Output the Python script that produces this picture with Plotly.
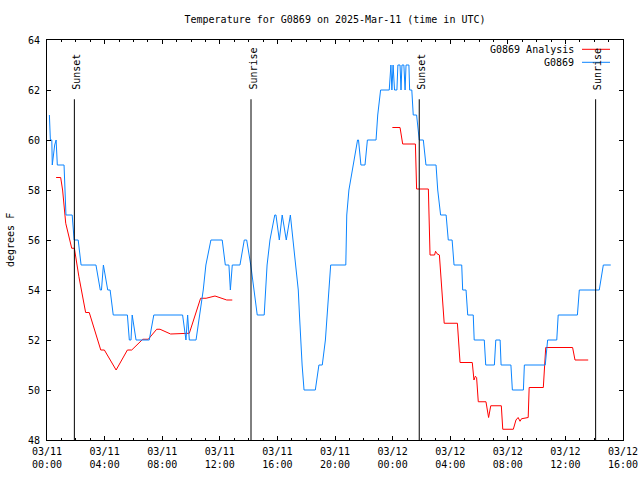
import plotly.graph_objects as go

D1 = "2025-03-11 "
D2 = "2025-03-12 "

obs_times = [
    D1+"00:10", D1+"00:14", D1+"00:20", D1+"00:22", D1+"00:27", D1+"00:32", D1+"00:38", D1+"00:43",
    D1+"01:11", D1+"01:16", D1+"01:19", D1+"01:45", D1+"01:53", D1+"02:10", D1+"02:22", D1+"03:24",
    D1+"03:42", D1+"03:47", D1+"03:55", D1+"04:13", D1+"04:23", D1+"04:36", D1+"05:35", D1+"05:43",
    D1+"05:50", D1+"05:55", D1+"06:11", D1+"07:06", D1+"07:25", D1+"09:25", D1+"09:39", D1+"09:46",
    D1+"09:53", D1+"10:21", D1+"10:51", D1+"11:02", D1+"11:23", D1+"12:10", D1+"12:23", D1+"12:38",
    D1+"12:44", D1+"12:52", D1+"13:24", D1+"13:42", D1+"13:52", D1+"14:09", D1+"14:24", D1+"14:36",
    D1+"15:05", D1+"15:17", D1+"15:29", D1+"15:49", D1+"15:54", D1+"16:08", D1+"16:20", D1+"16:37",
    D1+"16:54", D1+"17:06", D1+"17:18", D1+"17:27", D1+"17:32", D1+"17:37", D1+"17:43", D1+"17:51",
    D1+"18:38", D1+"18:53", D1+"19:07", D1+"19:20", D1+"19:28", D1+"19:34", D1+"19:42", D1+"20:45",
    D1+"20:49", D1+"20:58", D1+"21:15", D1+"21:34", D1+"21:38", D1+"21:48", D1+"22:05", D1+"22:15",
    D1+"22:51", D1+"22:58", D1+"23:10", D1+"23:46", D1+"23:53", D1+"23:57", D2+"00:02", D2+"00:08",
    D2+"00:18", D2+"00:22", D2+"00:31", D2+"00:35", D2+"00:39", D2+"00:47", D2+"00:52", D2+"00:56",
    D2+"01:08", D2+"01:11", D2+"01:20", D2+"01:26", D2+"01:40", D2+"01:51", D2+"02:08", D2+"02:19",
    D2+"03:01", D2+"03:08", D2+"03:20", D2+"03:43", D2+"03:52", D2+"04:08", D2+"04:16", D2+"04:48",
    D2+"04:52", D2+"05:06", D2+"05:13", D2+"05:36", D2+"05:40", D2+"06:22", D2+"06:28", D2+"07:04",
    D2+"07:10", D2+"07:28", D2+"07:32", D2+"08:13", D2+"08:19", D2+"09:05", D2+"09:09", D2+"10:36",
    D2+"10:46", D2+"11:24", D2+"11:30", D2+"12:50", D2+"12:58", D2+"14:21", D2+"14:38", D2+"15:09",
]
obs_temps = [
    61, 60, 60, 59, 59.4, 59.8, 60, 59,
    59, 58, 57, 57, 56, 56, 55, 55,
    54, 54, 55, 54, 54, 53, 53, 52,
    52, 53, 52, 52, 53, 53, 52, 53,
    52, 52, 54, 55, 56, 56, 55, 55,
    54, 55, 55, 56, 56, 55, 54, 53,
    53, 55, 56, 57, 57, 56, 57, 56,
    57, 56, 55, 54, 53, 52, 51, 50,
    50, 51, 51, 52, 53, 54, 55, 55,
    57, 58, 59, 60, 60, 59, 59, 60,
    60, 61, 62, 62, 63, 62, 63, 62,
    62, 63, 63, 62, 63, 63, 62, 63,
    63, 62, 62, 61, 61, 60, 60, 59,
    59, 58, 57, 57, 56, 56, 55, 55,
    54, 54, 53, 53, 52, 52, 51, 51,
    52, 52, 51, 51, 50, 50, 51, 51,
    52, 52, 53, 53, 54, 54, 55, 55,
]

ana_times = [
    D1+"00:38", D1+"00:57", D1+"01:05", D1+"01:18", D1+"01:43", D1+"01:54", D1+"02:13", D1+"02:27",
    D1+"02:41", D1+"02:56", D1+"03:23", D1+"03:44", D1+"03:59", D1+"04:48", D1+"05:35", D1+"05:53",
    D1+"06:39", D1+"07:02", D1+"07:37", D1+"07:51", D1+"08:35", D1+"09:53", D1+"10:40", D1+"11:03",
    D1+"11:40", D1+"12:29", D1+"12:52",
    D1+"18:00",
    D1+"23:59", D2+"00:31", D2+"00:42", D2+"01:35", D2+"01:40", D2+"02:29", D2+"02:36", D2+"02:55",
    D2+"02:59", D2+"03:05", D2+"03:15", D2+"03:35", D2+"04:30", D2+"04:41", D2+"05:32", D2+"05:39",
    D2+"05:45", D2+"05:50", D2+"05:57", D2+"06:29", D2+"06:40", D2+"06:49", D2+"07:33", D2+"07:39",
    D2+"08:23", D2+"08:34", D2+"08:43", D2+"08:51", D2+"08:57", D2+"09:25", D2+"09:29", D2+"10:28",
    D2+"10:38", D2+"12:30", D2+"12:40", D2+"13:35",
]
ana_temps = [
    58.5, 58.5, 58.0, 56.67, 55.67, 55.67, 54.53, 53.73,
    53.1, 53.1, 52.27, 51.6, 51.6, 50.8, 51.6, 51.6,
    52.03, 52.03, 52.43, 52.43, 52.24, 52.27, 53.67, 53.67,
    53.76, 53.6, 53.6,
    None,
    60.5, 60.5, 59.84, 59.84, 58.04, 58.04, 55.4, 55.4,
    55.55, 55.45, 55.4, 52.67, 52.67, 51.1, 51.1, 50.4,
    50.55, 50.5, 49.53, 49.53, 48.9, 49.37, 49.37, 48.43,
    48.43, 48.8, 48.9, 48.75, 48.85, 48.9, 50.1, 50.1,
    51.7, 51.7, 51.2, 51.2,
]

sun_times = [D1+"01:54", D1+"14:10", D2+"01:51", D2+"14:06"]
sun_labels = ["Sunset", "Sunrise", "Sunset", "Sunrise"]

tick_vals = [D1+"00:00", D1+"04:00", D1+"08:00", D1+"12:00", D1+"16:00", D1+"20:00",
             D2+"00:00", D2+"04:00", D2+"08:00", D2+"12:00", D2+"16:00"]
tick_text = ["03/11<br>00:00", "03/11<br>04:00", "03/11<br>08:00", "03/11<br>12:00",
             "03/11<br>16:00", "03/11<br>20:00", "03/12<br>00:00", "03/12<br>04:00",
             "03/12<br>08:00", "03/12<br>12:00", "03/12<br>16:00"]

RED = "#ff0000"
BLUE = "#0a84ff"
FONT = "DejaVu Sans Mono"

fig = go.Figure()
fig.add_trace(go.Scatter(x=ana_times, y=ana_temps, mode="lines", name="G0869 Analysis",
                         line=dict(color=RED, width=1), connectgaps=False))
fig.add_trace(go.Scatter(x=obs_times, y=obs_temps, mode="lines", name="G0869",
                         line=dict(color=BLUE, width=1)))

for t, lab in zip(sun_times, sun_labels):
    fig.add_shape(type="line", xref="x", yref="y", x0=t, x1=t, y0=48, y1=61.63,
                  line=dict(color="black", width=1))
    fig.add_annotation(x=t, y=61.92, xref="x", yref="y", text=lab, textangle=-90,
                       showarrow=False, xanchor="center", yanchor="bottom", xshift=1.5,
                       font=dict(family=FONT, size=10, color="black"))

# legend (gnuplot style: text right, sample to the right)
for i, (lab, col) in enumerate([("G0869 Analysis", RED), ("G0869", BLUE)]):
    ypix = 49.3 + 13 * i
    yp = 1 - (ypix - 40) / 400
    fig.add_shape(type="line", xref="paper", yref="paper", x0=(582 - 47) / 576, x1=(610 - 47) / 576,
                  y0=yp, y1=yp, line=dict(color=col, width=1))
    fig.add_annotation(x=(576 - 47) / 576, y=yp, xref="paper", yref="paper", text=lab,
                       showarrow=False, xanchor="right", yanchor="middle",
                       font=dict(family=FONT, size=10, color="black"))

fig.add_annotation(x=(10 - 47) / 576, y=0.5, xref="paper", yref="paper", text="degrees F",
                   textangle=-90, showarrow=False, xanchor="center", yanchor="middle",
                   font=dict(family=FONT, size=10, color="black"))

fig.update_layout(
    width=640, height=480,
    margin=dict(l=47, r=17, t=40, b=40, autoexpand=False),
    paper_bgcolor="white", plot_bgcolor="white",
    showlegend=False,
    font=dict(family=FONT, size=10, color="black"),
    title=dict(text="Temperature for G0869 on 2025-Mar-11 (time in UTC)",
               x=0.5, xref="paper", xanchor="center",
               y=1 - 19 / 480, yref="container", yanchor="middle",
               font=dict(family=FONT, size=10, color="black")),
    xaxis=dict(type="date", range=[D1+"00:00", D2+"16:00"], automargin=False,
               tickvals=tick_vals, ticktext=tick_text,
               ticks="inside", ticklen=4, tickcolor="black", tickwidth=1,
               minor=dict(dtick=3600000, ticks="inside", ticklen=2, tickcolor="black", tickwidth=1),
               showline=True, linecolor="black", linewidth=1, mirror="allticks",
               showgrid=False, zeroline=False, ticklabelstandoff=2,
               tickfont=dict(family=FONT, size=10, color="black")),
    yaxis=dict(range=[48, 64], dtick=2, tick0=48, automargin=False,
               ticks="inside", ticklen=4, tickcolor="black", tickwidth=1,
               showline=True, linecolor="black", linewidth=1, mirror="allticks",
               showgrid=False, zeroline=False, ticklabelstandoff=4,
               tickfont=dict(family=FONT, size=10, color="black")),
)

fig.write_html("out.html", config={"displayModeBar": False},
               post_script="document.body.style.margin='0';")
